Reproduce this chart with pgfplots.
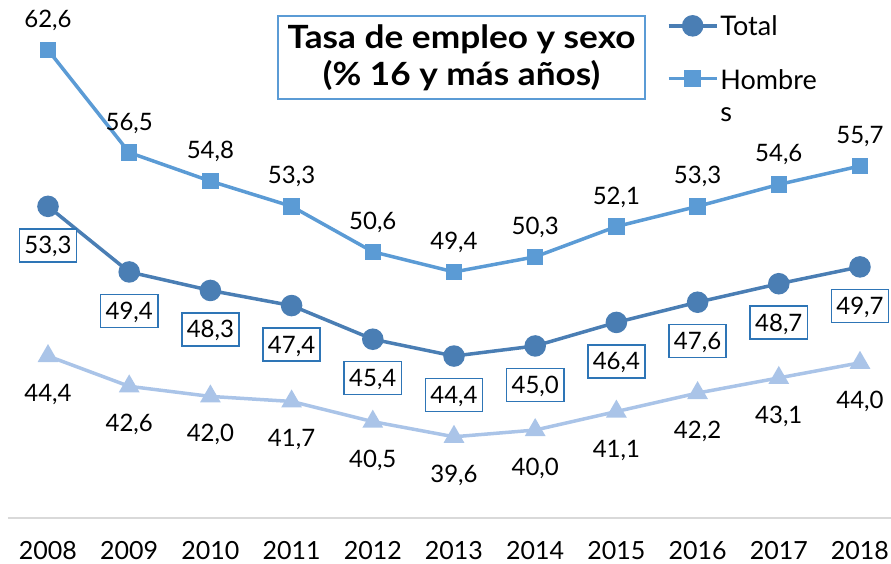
\documentclass[border=0pt]{standalone}
\usepackage{fontspec}
\setmainfont{Lato}
\newfontfamily\titlefont{Lato}[FakeStretch=1.1]
\usepackage{pgfplots}
\pgfplotsset{compat=1.18}
\definecolor{cTotal}{RGB}{74,126,180}
\definecolor{cHom}{RGB}{91,155,213}
\definecolor{cMuj}{RGB}{170,196,232}
\definecolor{cBox}{RGB}{46,117,182}
\definecolor{cTitle}{RGB}{91,155,213}
\definecolor{cAxis}{RGB}{217,217,217}
\begin{document}
\begin{tikzpicture}
\begin{axis}[name=ax, scale only axis, width=883pt, height=518pt,
  xmin=-0.4926, xmax=10.382, ymin=34.77, ymax=65.57,
  axis x line*=bottom, axis y line=none,
  x axis line style={cAxis, line width=2pt, -},
  xtick={0,...,10},
  xticklabels={2008,2009,2010,2011,2012,2013,2014,2015,2016,2017,2018},
  major tick length=0pt,
  xticklabel style={font=\fontsize{25}{30}\selectfont, anchor=center, yshift=-32pt, text height=18pt, text depth=0pt},
  clip=false,
  every axis plot/.append style={line width=3.5pt},
  nodes near coords={\pgfmathprintnumber[fixed,fixed zerofill,precision=1,use comma,assume math mode=true]{\pgfplotspointmeta}},
  every node near coord/.append style={font=\fontsize{24}{28}\selectfont, text=black, anchor=center, text height=17pt, text depth=0pt},
  legend style={draw=none, fill=none, at={(0.746,0.975)}, anchor=north west,
    font=\fontsize{27}{35}\selectfont, row sep=24pt, inner sep=0pt},
  legend cell align=left,
  legend image code/.code={\draw[mark repeat=2,mark phase=2] plot coordinates {(0pt,0pt) (24pt,0pt) (48pt,0pt)};},
]
\addplot[cTotal, mark=*, mark size=9pt,
  every node near coord/.append style={draw=cBox, line width=1.5pt, fill=white, inner xsep=5pt, inner ysep=8pt, yshift=-39pt}]
  coordinates {(0,53.3) (1,49.4) (2,48.3) (3,47.4) (4,45.4) (5,44.4) (6,45.0) (7,46.4) (8,47.6) (9,48.7) (10,49.7)};
\addlegendentry{Total}
\addplot[cHom, mark=square*, mark size=6.5pt,
  every node near coord/.append style={yshift=31pt}]
  coordinates {(0,62.6) (1,56.5) (2,54.8) (3,53.3) (4,50.6) (5,49.4) (6,50.3) (7,52.1) (8,53.3) (9,54.6) (10,55.7)};
\addlegendentry{\raisebox{2pt}{\begin{tabular}[t]{@{}l@{}}Hombre\\[-3pt]s\end{tabular}}}
\addplot[cMuj, mark=triangle*, mark size=8.5pt, forget plot,
  every node near coord/.append style={yshift=-37pt}]
  coordinates {(0,44.4) (1,42.6) (2,42.0) (3,41.7) (4,40.5) (5,39.6) (6,40.0) (7,41.1) (8,42.2) (9,43.1) (10,44.0)};
\node[draw=cTitle, line width=1.5pt, fill=white, align=center, font=\titlefont\bfseries\fontsize{32}{37}\selectfont,
  minimum width=367pt, minimum height=83pt, inner sep=0pt] at (axis description cs:0.5136,0.889)
  {Tasa de empleo y sexo\\(\% 16 y más años)};
\end{axis}
\pgfresetboundingbox
\path[use as bounding box] ([xshift=-8pt,yshift=-45pt]ax.south west) rectangle (ax.north east);
\end{tikzpicture}
\end{document}
